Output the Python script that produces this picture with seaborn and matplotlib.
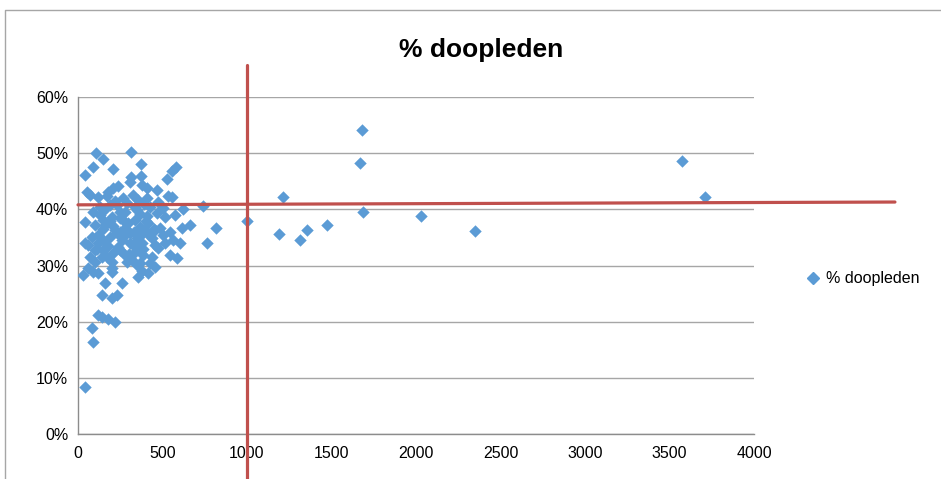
import numpy as np
import pandas as pd
import matplotlib.pyplot as plt
import seaborn as sns
from matplotlib.lines import Line2D
from matplotlib.ticker import PercentFormatter

# number of members (x) and share of baptised members in % (y)
members = [107, 314, 148, 373, 89, 207, 580, 556, 41, 527, 314, 373, 308, 379, 408, 467,
           53, 178, 207, 237, 71, 118, 172, 266, 325, 355, 408, 533, 556, 130, 231, 290,
           473, 503, 621, 426, 349, 41, 101, 148, 201, 249, 296, 337, 367, 414, 574, 615,
           663, 467, 515,
           41, 83, 118, 148, 189, 231, 266, 308, 349, 379, 71, 101, 148, 172, 201, 249,
           278, 308, 337, 385, 367, 426, 456, 473, 456, 544, 562, 604, 586, 414, 355, 30,
           59, 89, 118, 201, 160, 260, 142, 201, 231, 118, 142, 178, 219, 83, 89, 41, 763,
           219, 278, 396, 485, 160, 325, 237, 385, 290, 349, 503, 438, 249, 189, 408, 456,
           101, 59, 207, 515, 544, 367,
           130, 160, 190, 220, 250, 280, 310, 340, 370, 400, 120, 150, 180, 210, 240, 270,
           300, 330, 360, 390, 420, 450, 140, 200, 260, 320, 380, 440, 90, 110,
           740, 817, 1000, 1213, 1189, 1314, 1355, 1473, 1680, 1669, 1686, 2030, 2349,
           3574, 3710]
pct_doop = [50.0, 50.2, 49.0, 48.1, 47.5, 47.2, 47.5, 46.8, 46.1, 45.4, 45.8, 45.9, 44.9,
            44.3, 43.8, 43.4, 43.1, 43.1, 43.8, 44.2, 42.6, 42.2, 42.4, 42.0, 42.6, 41.7,
            42.0, 42.4, 42.2, 40.4, 40.8, 41.1, 41.3, 40.2, 40.1, 40.4, 39.9, 37.7, 37.2,
            38.1, 38.6, 38.5, 37.6, 38.1, 36.8, 37.6, 39.0, 36.7, 37.2, 39.3, 38.6,
            34.0, 35.1, 35.4, 34.5, 35.1, 35.8, 35.1, 35.8, 34.9, 34.0, 31.5, 30.6, 32.8,
            31.5, 30.6, 32.8, 31.9, 31.3, 32.4, 31.9, 30.4, 30.4, 33.6, 33.1, 29.7, 31.9,
            34.5, 34.0, 31.3, 28.7, 28.0, 28.3, 29.6, 28.8, 28.7, 28.8, 26.9, 26.9, 24.7,
            24.2, 24.7, 21.2, 20.8, 20.5, 20.0, 18.9, 16.4, 8.4, 34.0,
            36.3, 36.7, 36.3, 36.7, 37.2, 33.6, 33.3, 32.9, 30.6, 30.1, 35.4, 34.9, 39.5,
            40.8, 38.8, 36.3, 32.8, 33.6, 32.2, 34.0, 36.0, 39.2,
            39.0, 40.0, 38.0, 41.5, 36.0, 39.5, 34.0, 40.5, 35.5, 38.0, 34.0, 36.5, 33.5,
            37.0, 33.0, 38.0, 32.0, 36.0, 33.0, 41.0, 35.5, 36.5, 31.5, 29.5, 34.5, 31.0,
            29.0, 31.5, 39.5, 33.0,
            40.6, 36.7, 37.9, 42.2, 35.6, 34.5, 36.3, 37.2, 54.1, 48.2, 39.5, 38.8, 36.1,
            48.6, 42.2]

x_ticks = [0, 500, 1000, 1500, 2000, 2500, 3000, 3500, 4000]
y_ticks = [0, 10, 20, 30, 40, 50, 60]

# hand drawn reference lines in the original
split_members = 1000
vline_span = [-8.0, 65.7]
hline_x = [0, 4834]
hline_y = [40.8, 41.3]

df = pd.DataFrame({'leden': members, 'doop': pct_doop})

sns.set_theme(style="white")
plt.rcParams['font.family'] = ['Liberation Sans', 'DejaVu Sans']

fig = plt.figure(figsize=(9.41, 4.79), dpi=100)
ax = fig.add_axes([78 / 941, 1 - 434 / 479, (754 - 78) / 941, (434 - 97) / 479])

sns.scatterplot(data=df, x='leden', y='doop', marker='D', s=40, color='#5B9BD5',
                linewidth=0, ax=ax, label='% doopleden', legend=False, zorder=3)

ax.set_xlim(0, 4000)
ax.set_ylim(0, 60)
ax.set_xticks(x_ticks)
ax.set_yticks(y_ticks)
ax.yaxis.set_major_formatter(PercentFormatter(decimals=0))
ax.grid(axis='y', color='#A6A6A6', linewidth=1)
ax.set_axisbelow(True)
for side in ['top', 'right']:
    ax.spines[side].set_visible(False)
for side in ['left', 'bottom']:
    ax.spines[side].set_color('#8C8C8C')
    ax.spines[side].set_linewidth(1)
ax.tick_params(axis='both', direction='out', length=4, width=1, color='#8C8C8C',
               labelsize=11.5, labelcolor='black', pad=3)
ax.tick_params(axis='x', pad=5)
ax.set_xlabel('')
ax.set_ylabel('')

# red reference lines, drawn past the plot area
ax.plot([split_members, split_members], vline_span, color='#C0504D', lw=2.3,
        clip_on=False, zorder=4)
ax.plot(hline_x, hline_y, color='#C0504D', lw=2.3, clip_on=False, zorder=4)

fig.suptitle('% doopleden', x=481 / 941, y=1 - 50 / 479, va='center',
             fontsize=19, fontweight='bold', color='black')

handle = Line2D([], [], marker='D', color='#5B9BD5', linestyle='', markersize=6)
fig.legend([handle], ['% doopleden'], loc='center left', frameon=False,
           bbox_to_anchor=(789 / 941, 1 - 279 / 479), fontsize=11.5,
           handletextpad=0.2, handlelength=1.2, labelcolor='black')

# outer chart border (partly cut off in the original)
fig.add_artist(Line2D([5 / 941, 5 / 941, 1], [0, 1 - 10 / 479, 1 - 10 / 479],
                      color='#A6A6A6', lw=1))

fig.savefig('out.png', dpi=100)
